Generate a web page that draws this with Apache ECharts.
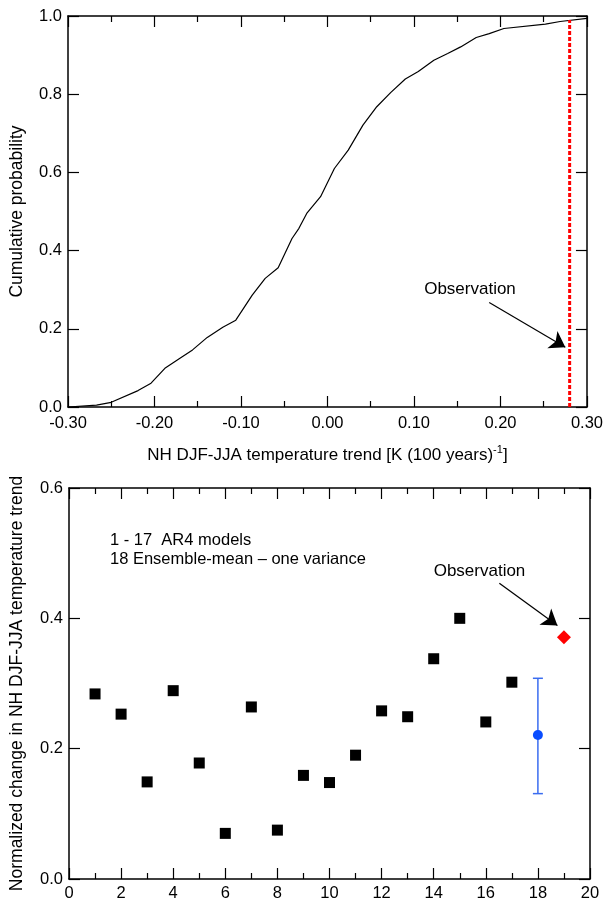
<!DOCTYPE html>
<html><head><meta charset="utf-8">
<script src="https://cdn.jsdelivr.net/npm/echarts@6/dist/echarts.min.js"></script>
<style>html,body{margin:0;padding:0;background:#fff}#c{width:606px;height:906px}</style>
</head><body><div id="c"></div>
<script>
// ---- Top panel: cumulative distribution of model trends ----
const cdfTrend = [-0.300,-0.267,-0.250,-0.219,-0.204,-0.188,-0.171,-0.156,-0.139,-0.121,-0.106,-0.087,-0.072,-0.057,-0.041,-0.033,-0.024,-0.008,0.008,0.024,0.041,0.057,0.073,0.090,0.105,0.123,0.139,0.154,0.172,0.187,0.204,0.252,0.269,0.300];
const cdfProb  = [0.000,0.005,0.012,0.042,0.061,0.099,0.124,0.146,0.178,0.204,0.222,0.286,0.329,0.356,0.431,0.457,0.495,0.538,0.610,0.657,0.721,0.768,0.804,0.839,0.858,0.887,0.904,0.921,0.945,0.955,0.968,0.979,0.986,0.994];
const obsTrend = 0.28;
const obsLineProb = [0.0, 0.99];
const topArrowFrom = [0.187, 0.267];
const topArrowTo = [0.275, 0.153];

// ---- Bottom panel: normalized change per model ----
const modelIds = [1,2,3,4,5,6,7,8,9,10,11,12,13,14,15,16,17];
const modelVals = [0.284,0.253,0.149,0.289,0.178,0.070,0.264,0.075,0.159,0.148,0.190,0.258,0.249,0.338,0.400,0.241,0.302];
const ensX = 18, ensMean = 0.221, ensLow = 0.131, ensHigh = 0.308;
const obsX = 19, obsVal = 0.371;
const botArrowFrom = [16.52, 0.454];
const botArrowTo = [18.75, 0.389];

const FONT = 'Liberation Sans, Arial, Helvetica, sans-serif';
const TICKFS = 16.5, NAMEFS = 17.5;
const chart = echarts.init(document.getElementById('c'), null, {renderer:'canvas'});

function axisBase(extra) {
  return Object.assign({
    type:'value',
    axisLine:{show:true,onZero:false,lineStyle:{color:'#000',width:1.5}},
    axisTick:{show:true,inside:true,length:11,lineStyle:{color:'#000',width:1.2}},
    minorTick:{show:false},
    splitLine:{show:false},
    axisLabel:{show:true,color:'#000',fontFamily:FONT,fontSize:TICKFS}
  }, extra);
}
const minor = {show:true,splitNumber:2,length:6,lineStyle:{color:'#000',width:1.2}};

const option = {
  animation:false,
  backgroundColor:'#fff',
  textStyle:{fontFamily:FONT},
  grid:[
    {left:68, top:16, width:522, height:391},
    {left:68, top:488, width:522, height:391}
  ],
  xAxis:[
    axisBase({gridIndex:0, position:'bottom', min:-0.3, max:0.3, interval:0.1, minorTick:minor,
      axisLabel:{color:'#000',fontFamily:FONT,fontSize:TICKFS,margin:8,formatter:v=>v.toFixed(2)},
      name:'{n|NH DJF-JJA temperature trend [K (100 years)}{s|-1}{n|]}',
      nameLocation:'middle', nameGap:37,
      nameTextStyle:{rich:{n:{fontFamily:FONT,fontSize:17,color:'#000'},s:{fontFamily:FONT,fontSize:11,color:'#000',verticalAlign:'top',padding:[0,0,11,0]}}}
    }),
    axisBase({gridIndex:0, position:'top', min:-0.3, max:0.3, interval:0.1, minorTick:minor,
      axisLabel:{show:false}}),
    axisBase({gridIndex:1, position:'bottom', min:0, max:20, interval:2, minorTick:minor,
      axisLabel:{color:'#000',fontFamily:FONT,fontSize:TICKFS,margin:6}}),
    axisBase({gridIndex:1, position:'top', min:0, max:20, interval:2, minorTick:minor,
      axisLabel:{show:false}})
  ],
  yAxis:[
    axisBase({gridIndex:0, position:'left', min:0, max:1, interval:0.2,
      axisLabel:{color:'#000',fontFamily:FONT,fontSize:TICKFS,margin:6,formatter:v=>v.toFixed(1)},
      name:'Cumulative probability', nameLocation:'middle', nameRotate:90, nameGap:42,
      nameTextStyle:{fontFamily:FONT,fontSize:NAMEFS,color:'#000'}}),
    axisBase({gridIndex:0, position:'right', min:0, max:1, interval:0.2, axisLabel:{show:false}}),
    axisBase({gridIndex:1, position:'left', min:0, max:0.6, interval:0.2,
      axisLabel:{color:'#000',fontFamily:FONT,fontSize:TICKFS,margin:6,formatter:v=>v.toFixed(1)},
      name:'Normalized change in NH DJF-JJA temperature trend', nameLocation:'middle', nameRotate:90, nameGap:43,
      nameTextStyle:{fontFamily:FONT,fontSize:NAMEFS,color:'#000'}}),
    axisBase({gridIndex:1, position:'right', min:0, max:0.6, interval:0.2, axisLabel:{show:false}})
  ],
  series:[
    {type:'line', xAxisIndex:0, yAxisIndex:0, showSymbol:false, symbol:'none', silent:true,
      lineStyle:{color:'#000',width:1.2},
      data: cdfTrend.map((t,i)=>[t,cdfProb[i]])},
    {type:'line', xAxisIndex:0, yAxisIndex:0, showSymbol:false, symbol:'none', silent:true,
      lineStyle:{color:'#ff0000',width:3,type:[4,2]},
      data: obsLineProb.map(p=>[obsTrend,p])},
    {type:'lines', coordinateSystem:'cartesian2d', xAxisIndex:0, yAxisIndex:0, silent:true,
      symbol:['none','arrow'], symbolSize:[9,15],
      lineStyle:{color:'#000',width:1.2,opacity:1},
      data:[{coords:[topArrowFrom, topArrowTo]}]},
    {type:'scatter', xAxisIndex:2, yAxisIndex:2, symbol:'rect', symbolSize:11, silent:true,
      itemStyle:{color:'#000',opacity:1},
      data: modelIds.map((m,i)=>[m,modelVals[i]])},
    {type:'custom', xAxisIndex:2, yAxisIndex:2, silent:true,
      data:[[ensX, ensLow, ensHigh]],
      renderItem:function(params, api){
        const top = api.coord([api.value(0), api.value(2)]);
        const bot = api.coord([api.value(0), api.value(1)]);
        const hw = 5;
        const st = {stroke:'#3a6cf0', lineWidth:1.5};
        return {type:'group', children:[
          {type:'line', shape:{x1:top[0],y1:top[1],x2:bot[0],y2:bot[1]}, style:st},
          {type:'line', shape:{x1:top[0]-hw,y1:top[1],x2:top[0]+hw,y2:top[1]}, style:st},
          {type:'line', shape:{x1:bot[0]-hw,y1:bot[1],x2:bot[0]+hw,y2:bot[1]}, style:st}
        ]};
      }},
    {type:'scatter', xAxisIndex:2, yAxisIndex:2, symbol:'circle', symbolSize:10, silent:true,
      itemStyle:{color:'#0a4dff',opacity:1}, z:5,
      data:[[ensX, ensMean]]},
    {type:'scatter', xAxisIndex:2, yAxisIndex:2, symbol:'diamond', symbolSize:[14,14], silent:true,
      itemStyle:{color:'#ff0000',opacity:1},
      data:[[obsX, obsVal]]},
    {type:'lines', coordinateSystem:'cartesian2d', xAxisIndex:2, yAxisIndex:2, silent:true,
      symbol:['none','arrow'], symbolSize:[9,15],
      lineStyle:{color:'#000',width:1.2,opacity:1},
      data:[{coords:[botArrowFrom, botArrowTo]}]}
  ],
  graphic:[
    {type:'text', x:470, y:289, style:{text:'Observation', font:'17px '+FONT, fill:'#000', align:'center', verticalAlign:'middle'}},
    {type:'text', x:479.5, y:571.5, style:{text:'Observation', font:'17px '+FONT, fill:'#000', align:'center', verticalAlign:'middle'}},
    {type:'text', x:110, y:540, style:{text:'1 - 17  AR4 models', font:'16.5px '+FONT, fill:'#000', align:'left', verticalAlign:'middle'}},
    {type:'text', x:110, y:559, style:{text:'18 Ensemble-mean \u2013 one variance', font:'16.5px '+FONT, fill:'#000', align:'left', verticalAlign:'middle'}}
  ]
};
chart.setOption(option);
</script></body></html>
